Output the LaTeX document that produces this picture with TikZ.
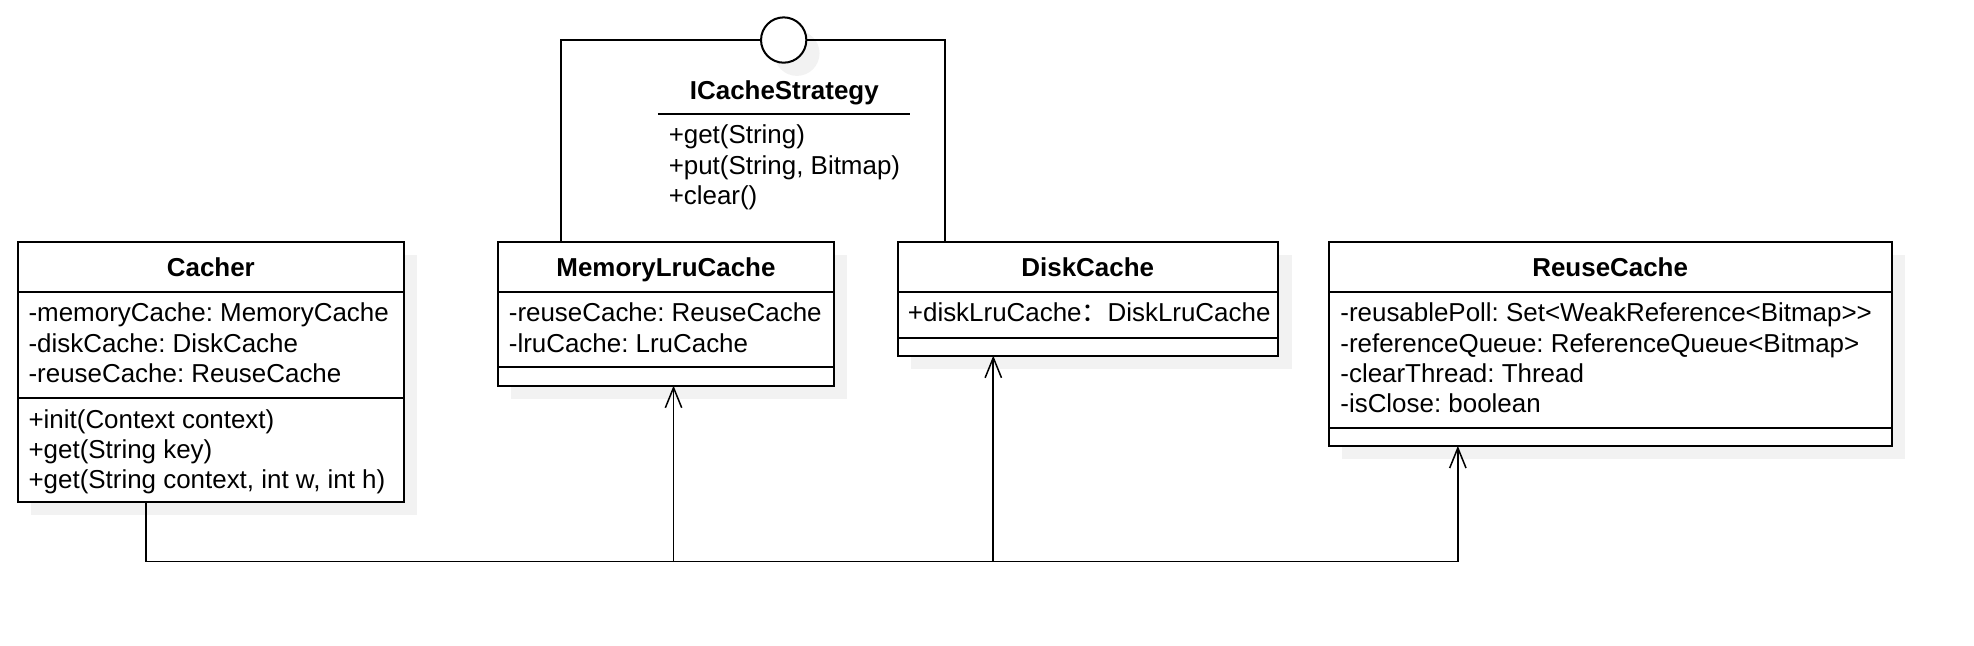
\documentclass[tikz,border=0pt]{standalone}
\usepackage{fontspec}
\setmainfont{Liberation Sans}
\newfontfamily\cjk{Noto Sans CJK SC}
\usetikzlibrary{arrows.meta}
\definecolor{shadowgray}{RGB}{242,242,242}
\frenchspacing
\begin{document}
\begin{tikzpicture}[x=1pt,y=-1pt,
  box/.style={draw, line width=1.6pt, fill=white, inner sep=0pt, outer sep=0pt, anchor=north west},
  attr/.style={anchor=west, inner sep=0pt, text height=15pt, text depth=0.5pt, font=\fontsize{20.6}{24}\selectfont},
  cname/.style={anchor=center, inner sep=0pt, text height=15pt, text depth=0.5pt, font=\fontsize{20.6}{24}\selectfont\bfseries},
  div/.style={line width=1.6pt},
  conn/.style={line width=1.3pt},
  arr/.style={conn, -{Straight Barb[length=16pt,width=13pt,line width=1.2pt]}}]
\useasboundingbox (0,0) rectangle (1568,513);

% shadows
\fill[shadowgray] (24.5,202.7) rectangle ++(307,206.5);
\fill[shadowgray] (406,202.7) rectangle ++(267,114.1);
\fill[shadowgray] (723.5,202.7) rectangle ++(302.4,90.3);
\fill[shadowgray] (1066.3,202.7) rectangle ++(447,162);
\fill[shadowgray] (633,42.3) circle (18pt);

% interface frame
\coordinate (fl) at (446,31.8);
\coordinate (fr) at (751,31.8);

% class boxes
\node[box, minimum width=307pt, minimum height=206.5pt] (cacher) at (14,192.2) {};
\node[box, minimum width=267pt, minimum height=114.1pt] (mem) at (395.5,192.2) {};
\node[box, minimum width=302.4pt, minimum height=90.3pt] (disk) at (713,192.2) {};
\node[box, minimum width=447pt, minimum height=162pt] (reuse) at (1055.8,192.2) {};

\draw[div] (mem.north -| fl) -- (fl) -- (fr) -- (disk.north -| fr);
\node[circle, draw, line width=1.6pt, fill=white, minimum size=36pt, inner sep=0pt] (lolli) at (622.5,31.8) {};

% dividers
\draw[div] ([yshift=-39.8pt]cacher.north west) -- ([yshift=-39.8pt]cacher.north east);
\draw[div] ([yshift=-124.3pt]cacher.north west) -- ([yshift=-124.3pt]cacher.north east);
\draw[div] ([yshift=-39.8pt]mem.north west) -- ([yshift=-39.8pt]mem.north east);
\draw[div] ([yshift=-99.5pt]mem.north west) -- ([yshift=-99.5pt]mem.north east);
\draw[div] ([yshift=-39.8pt]disk.north west) -- ([yshift=-39.8pt]disk.north east);
\draw[div] ([yshift=-76.3pt]disk.north west) -- ([yshift=-76.3pt]disk.north east);
\draw[div] ([yshift=-39.8pt]reuse.north west) -- ([yshift=-39.8pt]reuse.north east);
\draw[div] ([yshift=-147.8pt]reuse.north west) -- ([yshift=-147.8pt]reuse.north east);

% ICacheStrategy
\node[cname] (iname) at (623,71.5) {ICacheStrategy};
\coordinate (ul) at (522.5,90.5);
\coordinate (ur) at (722.5,90.5);
\draw[line width=1.3pt] (ul) -- (ur);
\node[attr] (im1) at (531,107) {+get(String)};
\node[attr] (im2) at (531,131.5) {+put(String, Bitmap)};
\node[attr] (im3) at (531,155) {+clear()};

% Cacher
\node[cname] (cn) at (167.5,212) {Cacher};
\node[attr] (ca1) at (22.5,248.5) {-memoryCache: MemoryCache};
\node[attr] (ca2) at (22.5,272.5) {-diskCache: DiskCache};
\node[attr] (ca3) at (22.5,296.5) {-reuseCache: ReuseCache};
\node[attr] (cm1) at (22.5,333) {+init(Context context)};
\node[attr] (cm2) at (22.5,357) {+get(String key)};
\node[attr] (cm3) at (22.5,381) {+get(String context, int w, int h)};

% MemoryLruCache
\node[cname] (mn) at (529,212) {MemoryLruCache};
\node[attr] (ma1) at (404,248.5) {-reuseCache: ReuseCache};
\node[attr] (ma2) at (404,272.5) {-lruCache: LruCache};

% DiskCache
\node[cname] (dn) at (864,212) {DiskCache};
\node[attr] (da1) at (721,248.5) {+diskLruCache{\cjk ：}DiskLruCache};

% ReuseCache
\node[cname] (rn) at (1279,212) {ReuseCache};
\node[attr] (ra1) at (1064.5,248.5) {-reusablePoll: Set<WeakReference<Bitmap>{}>};
\node[attr] (ra2) at (1064.5,272.5) {-referenceQueue: ReferenceQueue<Bitmap>};
\node[attr] (ra3) at (1064.5,296.5) {-clearThread: Thread};
\node[attr] (ra4) at (1064.5,320.5) {-isClose: boolean};

% connectors
\coordinate (c0) at (116,446);
\coordinate (cm) at (535,446);
\coordinate (cd) at (789,446);
\coordinate (cr) at (1158,446);
\draw[arr] (cacher.south -| c0) -- (c0) -- (cm) -- (mem.south -| cm);
\draw[arr] (cm) -- (cd) -- (disk.south -| cd);
\draw[arr] (cd) -- (cr) -- (reuse.south -| cr);
\end{tikzpicture}
\end{document}
